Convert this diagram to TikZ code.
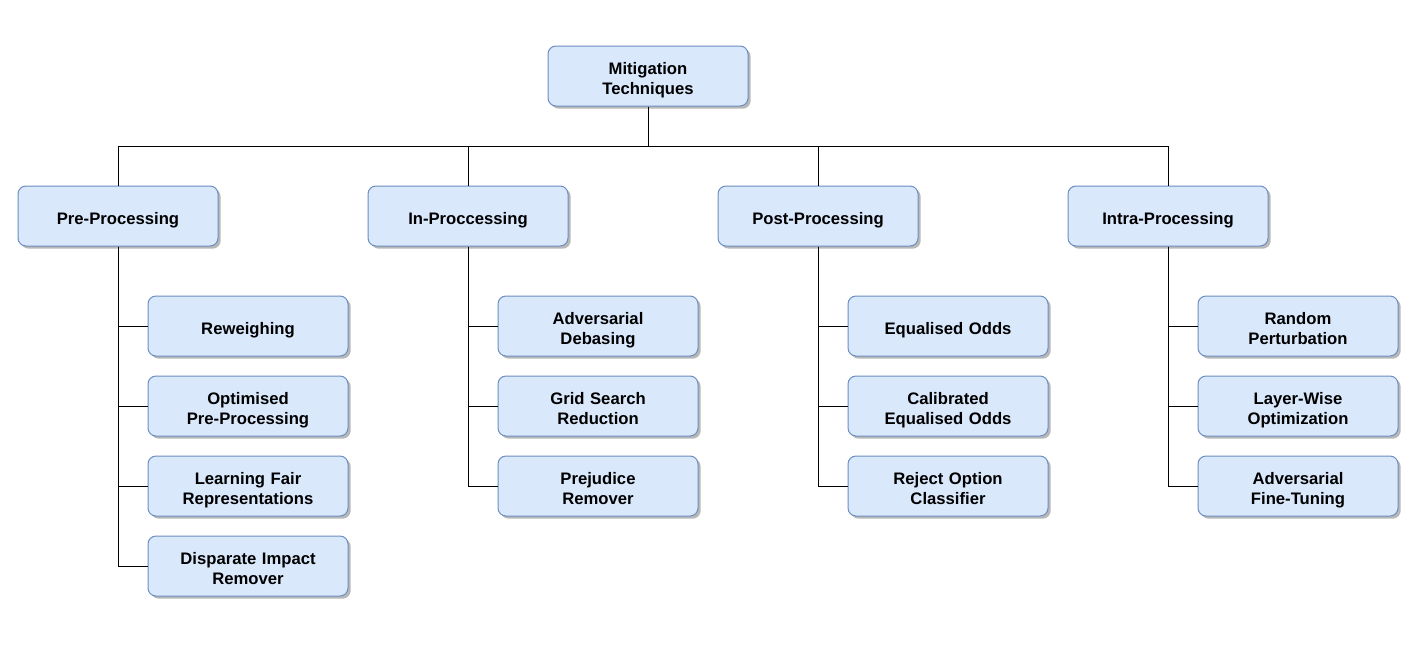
\documentclass[tikz,border=0pt]{standalone}
\usepackage{fontspec}
\setmainfont{Liberation Sans}
\usetikzlibrary{positioning, shadows}
\definecolor{boxfill}{HTML}{DAE8FC}
\definecolor{boxline}{HTML}{6C8EBF}
\tikzset{
    box/.style={draw=boxline, fill=boxfill, rounded corners=6pt, line width=0.75pt,
        minimum width=150pt, minimum height=45pt, text width=146pt, align=center, inner sep=2pt,
        font=\fontsize{12.5}{15}\selectfont\bfseries,
        execute at begin node={\rule{0pt}{15pt}},
        execute at end node={\rule[-3pt]{0pt}{3pt}},
        drop shadow={shadow xshift=2pt, shadow yshift=-2pt, fill=black!35, opacity=0.8}},
    link/.style={line width=0.75pt, black}
}

\begin{document}
\begin{tikzpicture}[x=0.75pt, y=-0.75pt]
    \useasboundingbox (0,0) rectangle (1420,650);
    % root
    \node[box] (mit) at (648,76) {Mitigation\\Techniques};
    % stages
    \node[box] (pre)   at (118,216)  {Pre-Processing};
    \node[box] (inp)   at (468,216)  {In-Proccessing};
    \node[box] (post)  at (818,216)  {Post-Processing};
    \node[box] (intra) at (1168,216) {Intra-Processing};
    % pre-processing methods
    \node[box] (pre1) at (248,326) {Reweighing};
    \node[box, below=60pt of pre1.center, anchor=center] (pre2) {Optimised\\Pre-Processing};
    \node[box, below=60pt of pre2.center, anchor=center] (pre3) {Learning Fair\\Representations};
    \node[box, below=60pt of pre3.center, anchor=center] (pre4) {Disparate Impact\\Remover};
    % in-processing methods
    \node[box] (inp1) at (598,326) {Adversarial\\Debasing};
    \node[box, below=60pt of inp1.center, anchor=center] (inp2) {Grid Search\\Reduction};
    \node[box, below=60pt of inp2.center, anchor=center] (inp3) {Prejudice\\Remover};
    % post-processing methods
    \node[box] (post1) at (948,326) {Equalised Odds};
    \node[box, below=60pt of post1.center, anchor=center] (post2) {Calibrated\\Equalised Odds};
    \node[box, below=60pt of post2.center, anchor=center] (post3) {Reject Option\\Classifier};
    % intra-processing methods
    \node[box] (intra1) at (1298,326) {Random\\Perturbation};
    \node[box, below=60pt of intra1.center, anchor=center] (intra2) {Layer-Wise\\Optimization};
    \node[box, below=60pt of intra2.center, anchor=center] (intra3) {Adversarial\\Fine-Tuning};

    % tree
    \coordinate (bus) at (648,146);
    \draw[link] (mit.south) -- (bus);
    \foreach \s in {pre, inp, post, intra}
        \draw[link] (bus) -| (\s.north);
    \foreach \c in {1,...,4}
        \draw[link] (pre.south) |- (pre\c.west);
    \foreach \c in {1,...,3} {
        \draw[link] (inp.south) |- (inp\c.west);
        \draw[link] (post.south) |- (post\c.west);
        \draw[link] (intra.south) |- (intra\c.west);
    }
\end{tikzpicture}
\end{document}
